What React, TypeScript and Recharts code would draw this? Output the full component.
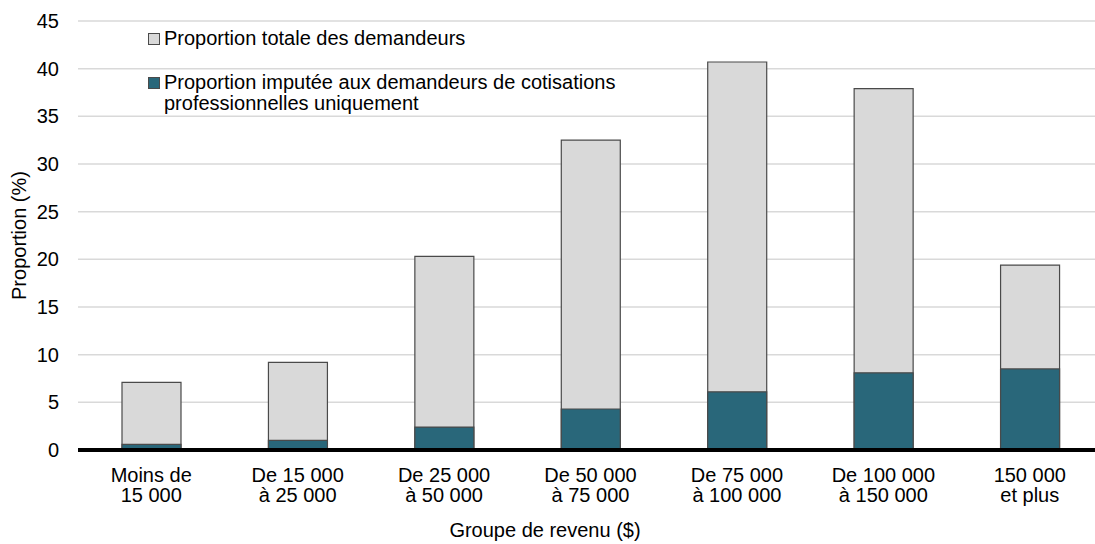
import React from "react";
import { BarChart, Bar, XAxis, YAxis, CartesianGrid } from "recharts";

const categories = [
    "Moins de\n15 000",
    "De 15 000\nà 25 000",
    "De 25 000\nà 50 000",
    "De 50 000\nà 75 000",
    "De 75 000\nà 100 000",
    "De 100 000\nà 150 000",
    "150 000\net plus",
];
const totalShare = [7.1, 9.2, 20.3, 32.5, 40.7, 37.9, 19.4];
const duesOnlyShare = [0.6, 1.0, 2.4, 4.3, 6.1, 8.1, 8.5];
const yTicks = [0, 5, 10, 15, 20, 25, 30, 35, 40, 45];

const data = categories.map((name, i) => ({
    name,
    total: totalShare[i],
    dues: duesOnlyShare[i],
}));

const FONT = "'Liberation Sans', Arial, sans-serif";
const GRAY = "#d9d9d9";
const TEAL = "#29677a";
const EDGE = "#4a4a4a";

const CategoryTick = (props: any) => {
    const { x, y, payload } = props;
    const lines = String(payload.value).split("\n");
    return (
        <text x={x} y={y} textAnchor="middle" fontFamily={FONT} fontSize={20} fill="#000">
            {lines.map((line, i) => (
                <tspan key={i} x={x} dy={i === 0 ? 24 : 20}>
                    {line}
                </tspan>
            ))}
        </text>
    );
};

const swatch = (color: string) => ({
    width: 10,
    height: 10,
    background: color,
    border: `1px solid ${EDGE}`,
    position: "absolute" as const,
    left: 0,
});

// legend sits inside the plot area, top-left
const LegendBox = () => (
    <div
        style={{
            position: "absolute",
            left: 148,
            top: 0,
            fontFamily: FONT,
            fontSize: 20,
            color: "#000",
            whiteSpace: "nowrap",
        }}
    >
        <span style={{ ...swatch(GRAY), top: 33 }} />
        <span style={{ position: "absolute", left: 16, top: 27, lineHeight: "22px" }}>
            Proportion totale des demandeurs
        </span>
        <span style={{ ...swatch(TEAL), top: 77 }} />
        <span style={{ position: "absolute", left: 16, top: 71, lineHeight: "22px" }}>
            Proportion imputée aux demandeurs de cotisations
        </span>
        <span style={{ position: "absolute", left: 16, top: 92, lineHeight: "22px" }}>
            professionnelles uniquement
        </span>
    </div>
);

export default function App() {
    return (
        <div
            style={{
                position: "absolute",
                left: 0,
                top: 0,
                width: 1095,
                height: 544,
                overflow: "hidden",
                background: "#fff",
            }}
        >
            <BarChart
                width={1110}
                height={544}
                data={data}
                margin={{ top: 21, right: 7, bottom: 0, left: 0 }}
                barGap={-59}
            >
                <CartesianGrid vertical={false} stroke="#d9d9d9" strokeWidth={1.5} />
                <XAxis
                    dataKey="name"
                    height={94}
                    tickLine={false}
                    axisLine={{ stroke: "#000", strokeWidth: 4 }}
                    interval={0}
                    tick={<CategoryTick />}
                    label={(p: any) => {
                        const vb = p.viewBox;
                        return (
                            <text
                                x={545}
                                y={vb.y + 87}
                                textAnchor="middle"
                                fontFamily={FONT}
                                fontSize={20}
                                fill="#000"
                            >
                                Groupe de revenu ($)
                            </text>
                        );
                    }}
                />
                <YAxis
                    width={78}
                    domain={[0, 45]}
                    ticks={yTicks}
                    tickLine={false}
                    axisLine={false}
                    tickSize={0}
                    tickMargin={19}
                    tick={{ fontFamily: FONT, fontSize: 20, fill: "#000" }}
                    label={(p: any) => {
                        const vb = p.viewBox;
                        const cy = vb.y + vb.height / 2;
                        return (
                            <text
                                x={19}
                                y={cy}
                                transform={`rotate(-90 19 ${cy})`}
                                textAnchor="middle"
                                dominantBaseline="central"
                                fontFamily={FONT}
                                fontSize={20}
                                fill="#000"
                            >
                                Proportion (%)
                            </text>
                        );
                    }}
                />
                <Bar
                    dataKey="total"
                    barSize={59}
                    fill={GRAY}
                    stroke={EDGE}
                    strokeWidth={1.2}
                    isAnimationActive={false}
                />
                <Bar
                    dataKey="dues"
                    barSize={59}
                    fill={TEAL}
                    stroke={EDGE}
                    strokeWidth={1.2}
                    isAnimationActive={false}
                />
            </BarChart>
            <LegendBox />
        </div>
    );
}
